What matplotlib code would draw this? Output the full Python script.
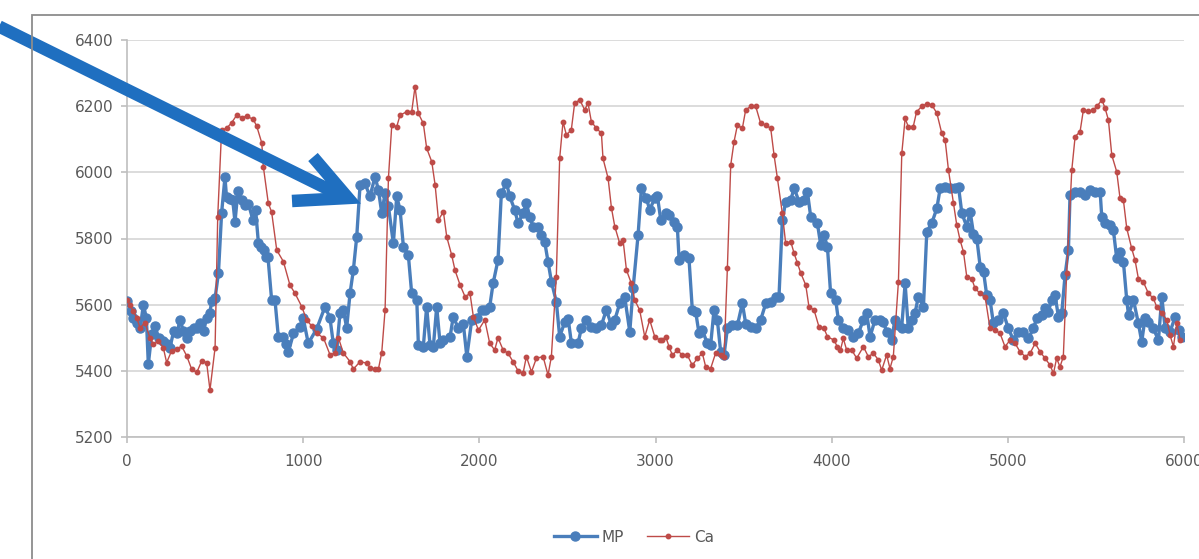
import matplotlib
matplotlib.use("Agg")
import matplotlib.pyplot as plt
from matplotlib.lines import Line2D
from matplotlib.patches import Rectangle

# MP series (blue)
mp_x = [0, 20, 36, 55, 75, 93, 110, 121, 140, 159, 180, 206, 225, 244, 265, 285, 301, 320, 339, 360,
        380, 396, 415, 435, 452, 470, 481, 500, 519, 537, 556, 565, 585, 600, 613, 630, 650, 670, 689, 715,
        730, 746, 760, 775, 790, 800, 821, 840, 859, 885, 900, 916, 945, 982,
        1000, 1029, 1077, 1124, 1152, 1171, 1190, 1209, 1228, 1247, 1266, 1285, 1304, 1323, 1351, 1379,
        1408, 1427, 1446, 1465, 1484, 1512, 1531, 1550, 1569, 1597, 1616, 1645, 1654, 1682, 1701, 1720,
        1739, 1758, 1777, 1796, 1834, 1852, 1881, 1909, 1929, 1957, 1985, 2014,
        2031, 2059, 2078, 2106, 2125, 2154, 2173, 2201, 2220, 2248, 2267, 2286, 2305, 2333, 2352, 2371,
        2390, 2409, 2437, 2456, 2485, 2504, 2523, 2560, 2579, 2608, 2636, 2665, 2693, 2721, 2750, 2769,
        2797, 2825, 2854, 2873, 2901, 2920, 2948, 2967, 2996,
        3011, 3030, 3058, 3077, 3105, 3124, 3134, 3162, 3190, 3209, 3228, 3247, 3266, 3294, 3313, 3332,
        3351, 3370, 3389, 3408, 3436, 3465, 3493, 3512, 3540, 3569, 3597, 3626, 3654, 3682, 3701, 3720,
        3739, 3768, 3787, 3815, 3843, 3862, 3881, 3919, 3938, 3957, 3976, 3994, 4023,
        4038, 4066, 4095, 4123, 4151, 4180, 4199, 4218, 4246, 4274, 4293, 4312, 4340, 4359, 4378, 4397,
        4417, 4435, 4454, 4473, 4492, 4521, 4540, 4568, 4597, 4616, 4644, 4672, 4701, 4720, 4739, 4767,
        4786, 4805, 4824, 4843, 4862, 4880, 4899, 4918, 4947, 4975,
        5003, 5032, 5060, 5088, 5117, 5145, 5164, 5192, 5211, 5230, 5249, 5268, 5287, 5306, 5325, 5344,
        5353, 5382, 5410, 5438, 5467, 5495, 5524, 5533, 5552, 5580, 5599, 5618, 5637, 5656, 5675, 5685,
        5713, 5741, 5760, 5779, 5798, 5826, 5855, 5874, 5893, 5921, 5950, 5969, 5988]
mp_y = [5610, 5580, 5560, 5545, 5530, 5600, 5560, 5420, 5510, 5535, 5500, 5490, 5480, 5470, 5520, 5515, 5555, 5520, 5500, 5520,
        5530, 5530, 5545, 5520, 5560, 5575, 5610, 5620, 5695, 5877, 5985, 5925, 5920, 5917, 5850, 5945, 5917, 5900, 5905, 5856,
        5887, 5786, 5775, 5765, 5745, 5745, 5614, 5614, 5503, 5503, 5480, 5457, 5513, 5533,
        5560, 5483, 5527, 5594, 5560, 5483, 5463, 5574, 5584, 5530, 5634, 5705, 5805, 5962, 5967, 5927,
        5987, 5947, 5877, 5937, 5897, 5785, 5927, 5887, 5775, 5750, 5634, 5614, 5478, 5473, 5594, 5478,
        5473, 5594, 5483, 5493, 5503, 5564, 5528, 5543, 5443, 5554, 5559, 5584,
        5584, 5594, 5664, 5735, 5937, 5967, 5927, 5886, 5846, 5876, 5907, 5866, 5836, 5836, 5810, 5790,
        5730, 5670, 5609, 5503, 5548, 5558, 5483, 5483, 5528, 5554, 5534, 5528, 5538, 5584, 5538, 5554,
        5604, 5624, 5518, 5650, 5810, 5952, 5922, 5887, 5922,
        5927, 5856, 5876, 5871, 5851, 5836, 5735, 5750, 5740, 5584, 5579, 5513, 5523, 5483, 5478, 5584,
        5554, 5457, 5447, 5528, 5538, 5538, 5604, 5543, 5533, 5528, 5554, 5604, 5609, 5624, 5624, 5856,
        5911, 5917, 5952, 5911, 5917, 5942, 5866, 5846, 5780, 5810, 5775, 5634, 5614,
        5554, 5528, 5523, 5503, 5513, 5554, 5574, 5503, 5554, 5554, 5549, 5518, 5493, 5554, 5538, 5528,
        5664, 5528, 5554, 5574, 5624, 5594, 5821, 5846, 5891, 5952, 5957, 5952, 5952, 5957, 5876, 5836,
        5881, 5815, 5800, 5715, 5700, 5629, 5614, 5544, 5554, 5574,
        5528, 5493, 5518, 5518, 5498, 5528, 5559, 5569, 5589, 5579, 5614, 5629, 5564, 5574, 5690, 5765,
        5932, 5942, 5942, 5932, 5947, 5942, 5942, 5866, 5846, 5841, 5826, 5740, 5760, 5730, 5614, 5569,
        5614, 5544, 5488, 5559, 5549, 5528, 5493, 5624, 5528, 5518, 5564, 5523, 5503]

# Ca series (red)
ca_x = [0, 17, 36, 55, 74, 102, 130, 150, 178, 206, 225, 253, 282, 310, 339, 367, 396, 424, 452, 471,
        500, 515, 537, 565, 594, 623, 651, 679, 717, 736, 765, 774, 802, 821, 850, 888, 925, 954, 992,
        1020, 1049, 1077, 1115, 1152, 1181, 1200, 1228, 1266, 1285, 1323, 1361, 1379, 1408, 1427, 1446,
        1465, 1484, 1503, 1531, 1550, 1588, 1616, 1635, 1654, 1682, 1701, 1730, 1749, 1768, 1796, 1815,
        1843, 1862, 1891, 1919, 1947, 1966, 1995,
        2031, 2059, 2087, 2106, 2135, 2163, 2191, 2220, 2248, 2267, 2296, 2324, 2362, 2390, 2409, 2437,
        2456, 2475, 2494, 2522, 2541, 2570, 2598, 2617, 2636, 2665, 2693, 2702, 2731, 2750, 2769, 2797,
        2816, 2835, 2863, 2882, 2910, 2939, 2967, 2996, 3024,
        3039, 3058, 3077, 3096, 3124, 3152, 3181, 3209, 3238, 3266, 3285, 3313, 3341, 3370, 3389, 3408,
        3427, 3446, 3465, 3493, 3512, 3540, 3569, 3597, 3626, 3654, 3673, 3692, 3720, 3739, 3768, 3787,
        3806, 3825, 3853, 3871, 3900, 3928, 3957, 3976, 4013, 4032,
        4050, 4066, 4085, 4114, 4142, 4180, 4208, 4237, 4265, 4284, 4312, 4331, 4350, 4379, 4398, 4417,
        4435, 4463, 4482, 4511, 4540, 4568, 4597, 4625, 4644, 4663, 4691, 4710, 4729, 4748, 4767, 4795,
        4814, 4843, 4871, 4899, 4928, 4956, 4984,
        5013, 5041, 5069, 5098, 5126, 5155, 5183, 5211, 5240, 5259, 5277, 5296, 5315, 5334, 5363, 5382,
        5410, 5429, 5457, 5486, 5505, 5534, 5552, 5571, 5590, 5618, 5637, 5656, 5675, 5703, 5722, 5741,
        5769, 5798, 5826, 5845, 5874, 5902, 5921, 5940, 5959, 5978]
ca_y = [5614, 5600, 5580, 5560, 5530, 5545, 5500, 5480, 5490, 5470, 5425, 5460, 5465, 5475, 5445, 5405, 5395, 5430, 5425, 5342,
        5470, 5866, 6128, 6133, 6150, 6173, 6165, 6170, 6160, 6140, 6089, 6017, 5907, 5880, 5765, 5730, 5659, 5634, 5594,
        5554, 5535, 5513, 5500, 5449, 5453, 5500, 5454, 5428, 5405, 5428, 5423, 5410, 5405, 5405, 5455,
        5584, 5983, 6143, 6138, 6173, 6183, 6183, 6259, 6178, 6148, 6073, 6032, 5962, 5856, 5881, 5805,
        5750, 5704, 5659, 5624, 5634, 5564, 5523,
        5554, 5483, 5463, 5500, 5463, 5453, 5428, 5400, 5392, 5443, 5397, 5438, 5443, 5387, 5443, 5685,
        6042, 6153, 6113, 6128, 6209, 6219, 6189, 6209, 6153, 6133, 6118, 6042, 5982, 5892, 5836, 5785,
        5795, 5705, 5664, 5614, 5584, 5503, 5554, 5503, 5493,
        5493, 5503, 5473, 5447, 5463, 5447, 5447, 5417, 5438, 5453, 5412, 5407, 5453, 5447, 5443, 5710,
        6022, 6093, 6143, 6133, 6189, 6199, 6199, 6148, 6143, 6133, 6052, 5982, 5876, 5785, 5790, 5755,
        5725, 5695, 5659, 5594, 5584, 5533, 5528, 5503, 5493, 5473,
        5463, 5498, 5463, 5463, 5438, 5473, 5443, 5453, 5433, 5402, 5448, 5407, 5443, 5670, 6057, 6163,
        6138, 6138, 6183, 6199, 6207, 6204, 6179, 6118, 6098, 6007, 5907, 5841, 5795, 5760, 5684, 5679,
        5649, 5634, 5624, 5528, 5523, 5513, 5473,
        5493, 5483, 5458, 5443, 5453, 5483, 5458, 5438, 5417, 5392, 5438, 5412, 5443, 5695, 6007, 6108,
        6123, 6189, 6184, 6189, 6199, 6219, 6194, 6158, 6052, 6002, 5921, 5916, 5831, 5770, 5735, 5679,
        5669, 5634, 5619, 5594, 5574, 5554, 5508, 5473, 5544, 5493]

x_ticks = [0, 1000, 2000, 3000, 4000, 5000, 6000]
y_ticks = [5200, 5400, 5600, 5800, 6000, 6200, 6400]

W, H = 1199, 559
fig = plt.figure(figsize=(W / 100, H / 100), dpi=100)

# outer chart frame (cut off at right and bottom)
fig.patches.append(Rectangle((32 / W, -0.05), 1.2, 1 - 15 / H + 0.05, transform=fig.transFigure,
                             fill=False, edgecolor="#8c8c8c", linewidth=1.3))

ax = fig.add_axes([127 / W, 1 - 437 / H, (1184 - 127) / W, (437 - 40) / H])
grey = "#595959"
ax.plot(mp_x, mp_y, color="#4a7ebb", lw=2.4, marker="o", ms=6.5, label="MP", zorder=3)
ax.plot(ca_x, ca_y, color="#be4b48", lw=1.0, marker="o", ms=3.2, label="Ca", zorder=4)

ax.set_xlim(0, 6000)
ax.set_ylim(5200, 6400)
ax.set_xticks(x_ticks)
ax.set_yticks(y_ticks)
ax.grid(axis="y", color="#d9d9d9", lw=1.3)
ax.set_axisbelow(True)
for s in ["top", "right"]:
    ax.spines[s].set_visible(False)
for s in ["left", "bottom"]:
    ax.spines[s].set_color("#bfbfbf")
    ax.spines[s].set_linewidth(1.2)
ax.tick_params(axis="both", colors="#bfbfbf", labelcolor=grey, labelsize=11, length=4, width=1.2)
ax.tick_params(axis="x", pad=8)
ax.tick_params(axis="y", pad=6)

leg = fig.legend(loc="center", bbox_to_anchor=(634 / W, 1 - 537 / H), ncol=2, frameon=False,
                 fontsize=11, handlelength=2.8, handletextpad=0.3, columnspacing=1.5)
for t in leg.get_texts():
    t.set_color(grey)

# big blue arrow drawn over the chart
over = fig.add_axes([0, 0, 1, 1])
over.set_xlim(0, W)
over.set_ylim(H, 0)
over.axis("off")
over.patch.set_alpha(0)
arrow_c = "#1f6fc0"
over.add_line(Line2D([-10, 342], [22, 196], color=arrow_c, lw=9, solid_capstyle="butt"))
over.add_line(Line2D([313, 348, 292], [157, 198, 201], color=arrow_c, lw=9,
                     solid_joinstyle="miter", solid_capstyle="butt"))

fig.savefig("out.png", dpi=100)
